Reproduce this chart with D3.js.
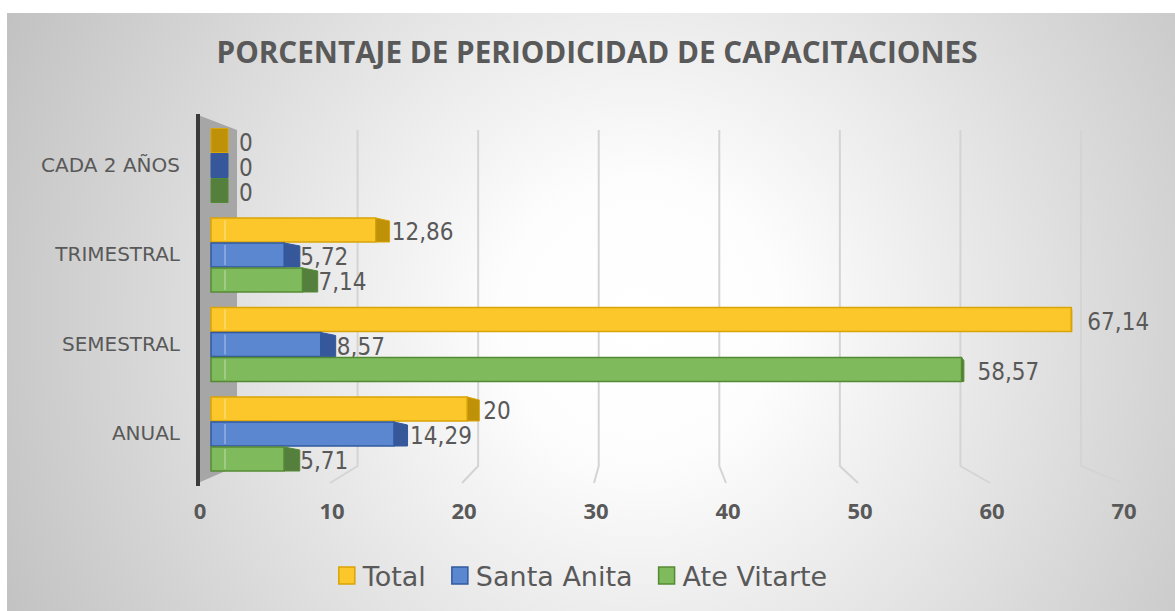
<!DOCTYPE html>
<html>
<head>
<meta charset="utf-8">
<script src="https://cdn.jsdelivr.net/npm/d3@7"></script>
<style>
  body { margin: 0; background: #fff; }
  svg { display: block; }
</style>
</head>
<body>
<div id="chart"><svg width="1175" height="611"></svg></div>
<script>
const categories = ['CADA 2 AÑOS', 'TRIMESTRAL', 'SEMESTRAL', 'ANUAL'];
const seriesNames = ['Total', 'Santa Anita', 'Ate Vitarte'];
const total = [0, 12.86, 67.14, 20];
const santaAnita = [0, 5.72, 8.57, 14.29];
const ateVitarte = [0, 7.14, 58.57, 5.71];
const tickValues = [0, 10, 20, 30, 40, 50, 60, 70];

const colors = {
  'Total': { face: '#FCC72A', edge: '#D9A406', cap: '#BE9109' },
  'Santa Anita': { face: '#5B87D0', edge: '#30599F', cap: '#36589A' },
  'Ate Vitarte': { face: '#7FBA5C', edge: '#558A35', cap: '#557F3C' }
};

const svg = d3.select('#chart').select('svg');
const defs = svg.append('defs');

// background gradient, light in the middle, grey at the corners
const grad = defs.append('radialGradient')
  .attr('id', 'bg')
  .attr('gradientUnits', 'userSpaceOnUse')
  .attr('cx', 640).attr('cy', 320).attr('r', 700);
grad.append('stop').attr('offset', '0').attr('stop-color', '#ffffff');
grad.append('stop').attr('offset', '0.2').attr('stop-color', '#fdfdfd');
grad.append('stop').attr('offset', '1').attr('stop-color', '#c2c2c2');

svg.append('rect')
  .attr('x', 7).attr('y', 13)
  .attr('width', 1168).attr('height', 598)
  .attr('fill', 'url(#bg)');

// scales: front floor edge, back wall, and bars (mid depth)
const xFront = d3.scaleLinear().domain([0, 70]).range([198, 1122]);
const xBack = d3.scaleLinear().domain([0, 70]).range([237, 1081]);
const xBar = d3.scaleLinear().domain([0, 70]).range([211, 1108]);

const y0 = d3.scaleBand().domain(categories).range([120, 478]);
const y1 = d3.scaleBand().domain(seriesNames).range([8.5, 83.5]);

const wallTop = 130, wallBottom = 466, floorFront = 483;

// left side wall
svg.append('polygon')
  .attr('points', [[198, 115], [xBack(0), wallTop], [xBack(0), wallBottom], [198, floorFront]].join(' '))
  .attr('fill', '#a6a6a6');

// gridlines on back wall + floor
svg.append('g')
  .selectAll('path')
  .data(tickValues.filter(function (d) { return d > 0; }))
  .enter()
  .append('path')
  .attr('d', function (d) {
    return 'M' + xBack(d) + ',' + wallTop + 'V' + wallBottom + 'L' + xFront(d) + ',' + floorFront;
  })
  .attr('fill', 'none')
  .attr('stroke', '#d4d4d4')
  .attr('stroke-width', 2);

// front edge of the wall
svg.append('line')
  .attr('x1', 198).attr('x2', 198)
  .attr('y1', 114).attr('y2', 486)
  .attr('stroke', '#3a3a3a')
  .attr('stroke-width', 4);

// flatten the data into bars
const bars = [];
categories.forEach(function (c, i) {
  bars.push({ cat: c, series: 'Total', value: total[i] });
  bars.push({ cat: c, series: 'Santa Anita', value: santaAnita[i] });
  bars.push({ cat: c, series: 'Ate Vitarte', value: ateVitarte[i] });
});

const capWidth = function (v) { return Math.max(0.5, 17 - 0.25 * v); };
const fmt = function (v) { return String(v).replace('.', ','); };

const barG = svg.append('g')
  .selectAll('g')
  .data(bars)
  .enter()
  .append('g');

barG.append('rect')
  .attr('x', xBar(0))
  .attr('y', function (d) { return y0(d.cat) + y1(d.series); })
  .attr('width', function (d) { return xBar(d.value) - xBar(0); })
  .attr('height', y1.bandwidth() - 1)
  .attr('fill', function (d) { return colors[d.series].face; })
  .attr('stroke', function (d) { return colors[d.series].edge; })
  .attr('stroke-width', 1.5);

// faint highlight near the left end of each bar
barG.filter(function (d) { return d.value > 2; })
  .append('line')
  .attr('x1', xBar(0) + 14).attr('x2', xBar(0) + 14)
  .attr('y1', function (d) { return y0(d.cat) + y1(d.series) + 2; })
  .attr('y2', function (d) { return y0(d.cat) + y1(d.series) + y1.bandwidth() - 3; })
  .attr('stroke', '#ffffff')
  .attr('stroke-opacity', 0.25)
  .attr('stroke-width', 2);

// right end face of each bar
barG.append('polygon')
  .attr('points', function (d) {
    const xe = xBar(d.value);
    const cw = capWidth(d.value);
    const yt = y0(d.cat) + y1(d.series);
    const h = y1.bandwidth() - 1;
    const s = d.value === 0 ? 0 : 3;
    return [[xe, yt], [xe + cw, yt + s], [xe + cw, yt + h], [xe, yt + h]].join(' ');
  })
  .attr('fill', function (d) { return colors[d.series].cap; })
  .attr('stroke', function (d) { return colors[d.series].edge; })
  .attr('stroke-width', 1);

// data labels
barG.append('text')
  .attr('x', function (d) { return Math.max(xBar(d.value) + 16, xBack(0) + 2); })
  .attr('y', function (d) { return y0(d.cat) + y1(d.series) + y1.bandwidth() / 2 + 1; })
  .attr('dy', '0.36em')
  .attr('font-family', '"DejaVu Sans Condensed", "DejaVu Sans", sans-serif')
  .attr('font-size', 24)
  .attr('fill', '#595959')
  .text(function (d) { return fmt(d.value); });

// value axis tick labels
svg.append('g')
  .selectAll('text')
  .data(tickValues)
  .enter()
  .append('text')
  .attr('x', function (d) { return xFront(d) + 2; })
  .attr('y', 519)
  .attr('text-anchor', 'middle')
  .attr('font-family', '"Open Sans", sans-serif')
  .attr('font-weight', 'bold')
  .attr('font-size', 22)
  .attr('fill', '#595959')
  .text(function (d) { return d; });

// category labels
svg.append('g')
  .selectAll('text')
  .data(categories)
  .enter()
  .append('text')
  .attr('x', 180)
  .attr('y', function (d) { return y0(d) + y0.bandwidth() / 2; })
  .attr('dy', '0.36em')
  .attr('text-anchor', 'end')
  .attr('font-family', '"DejaVu Sans", sans-serif')
  .attr('font-size', 20)
  .attr('fill', '#595959')
  .text(function (d) { return d; });

// title
svg.append('text')
  .attr('x', 597)
  .attr('y', 63)
  .attr('text-anchor', 'middle')
  .attr('font-family', '"Open Sans", sans-serif')
  .attr('font-weight', 'bold')
  .attr('font-size', 30)
  .attr('fill', '#595959')
  .attr('textLength', 761)
  .attr('lengthAdjust', 'spacingAndGlyphs')
  .text('PORCENTAJE DE PERIODICIDAD DE CAPACITACIONES');

// legend
const legend = svg.append('g');
let lx = 0;
seriesNames.forEach(function (name) {
  const item = legend.append('g').attr('transform', 'translate(' + lx + ',0)');
  item.append('rect')
    .attr('x', 0).attr('y', 567)
    .attr('width', 16).attr('height', 17)
    .attr('fill', colors[name].face)
    .attr('stroke', colors[name].edge)
    .attr('stroke-width', 1.5);
  const t = item.append('text')
    .attr('x', 24).attr('y', 586)
    .attr('font-family', '"DejaVu Sans", sans-serif')
    .attr('font-size', 27)
    .attr('fill', '#595959')
    .text(name);
  lx += 24 + t.node().getComputedTextLength() + 26;
});
const legendWidth = lx - 26;
legend.attr('transform', 'translate(' + (583 - legendWidth / 2) + ',0)');
</script>
</body>
</html>
